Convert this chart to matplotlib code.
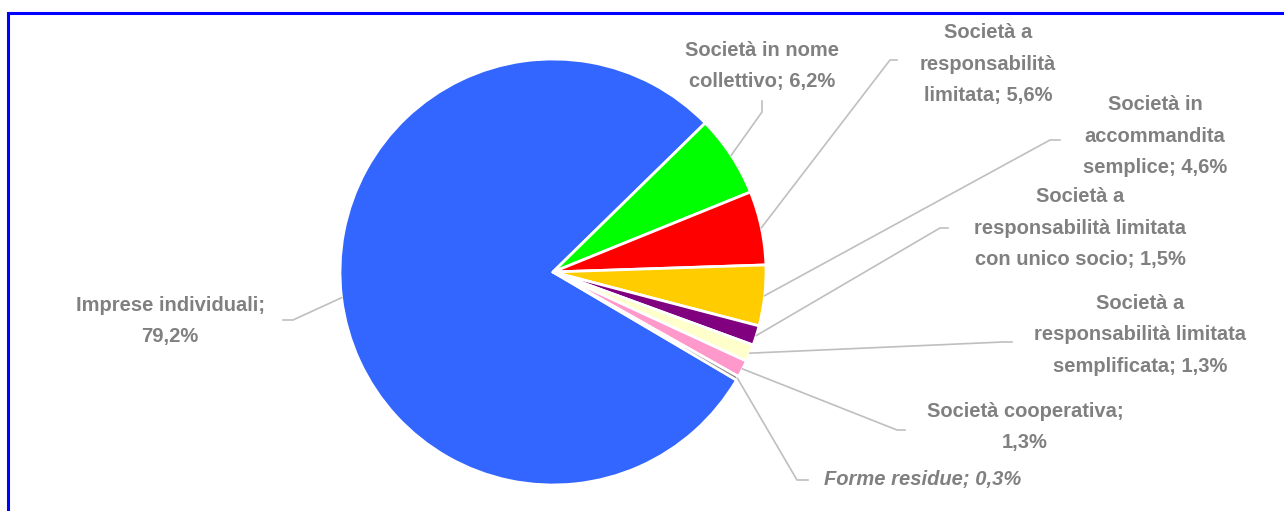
import numpy as np
import matplotlib.pyplot as plt
from matplotlib.patches import Rectangle

# Forme giuridiche delle imprese: quote percentuali
forme = ['Imprese individuali', 'Società in nome\ncollettivo', 'Società a\nresponsabilità\nlimitata',
         'Società in\naccommandita\nsemplice', 'Società a\nresponsabilità limitata\ncon unico socio',
         'Società a\nresponsabilità limitata\nsemplificata', 'Società cooperativa;\n', 'Forme residue']
quote = [79.2, 6.2, 5.6, 4.6, 1.5, 1.3, 1.3, 0.3]
colori = ['#3366FF', '#00FF00', '#FF0000', '#FFCC00', '#800080', '#FFFFCC', '#FF99CC', '#808080']

W, H = 1284, 511
fig = plt.figure(figsize=(W / 100, H / 100), dpi=100)
ax = fig.add_axes([0, 0, 1, 1])

# cornice blu del riquadro
ax.add_patch(Rectangle((7.5, -20), W + 40, H - 12.5 + 20, fill=False, edgecolor='#0000FF', lw=2.2))

cx, cy, r = 553, H - 272, 213
wedges, _ = ax.pie(quote, colors=colori, startangle=-30.5, counterclock=False,
                   center=(cx, cy), radius=r, frame=True,
                   wedgeprops=dict(edgecolor='white', linewidth=2))
ax.set_xlim(0, W)
ax.set_ylim(0, H)
ax.set_aspect('equal')
ax.axis('off')

def etichetta(i):
    nome = forme[i]
    val = f'{quote[i]:.1f}'.replace('.', ',') + '%'
    if i == 0:
        return nome + ';\n' + val
    if nome.endswith('\n'):
        return nome + val
    return nome + '; ' + val

# posizione testo (centro) e gomito della linea guida, coordinate in pixel dall'alto
pos_testo = [(170, 321), (762, 66), (988, 64), (1155, 136), (1080, 228), (1140, 335), (1025, 427), (923, 480)]
gomiti = [[(293, 320), (283, 320)],
          [(762, 112), (762, 101)],
          [(890, 60), (897, 60)],
          [(1050, 140), (1060, 140)],
          [(940, 228), (948, 228)],
          [(1003, 342), (1012, 342)],
          [(897, 430), (905, 430)],
          [(797, 480), (808, 480)]]

for i, w in enumerate(wedges):
    ang = np.deg2rad((w.theta1 + w.theta2) / 2)
    x0 = cx + r * np.cos(ang)
    y0 = cy + r * np.sin(ang)
    xs = [x0] + [p[0] for p in gomiti[i]]
    ys = [y0] + [H - p[1] for p in gomiti[i]]
    ax.plot(xs, ys, color='#BFBFBF', lw=1.2, zorder=3)
    tx, ty = pos_testo[i]
    ax.text(tx, H - ty, etichetta(i), ha='center', va='center', color='#808080',
            fontsize=14.5, fontweight='bold', family='Liberation Sans',
            style='italic' if i == 7 else 'normal', linespacing=1.85)

fig.savefig('out.png', dpi=100)
